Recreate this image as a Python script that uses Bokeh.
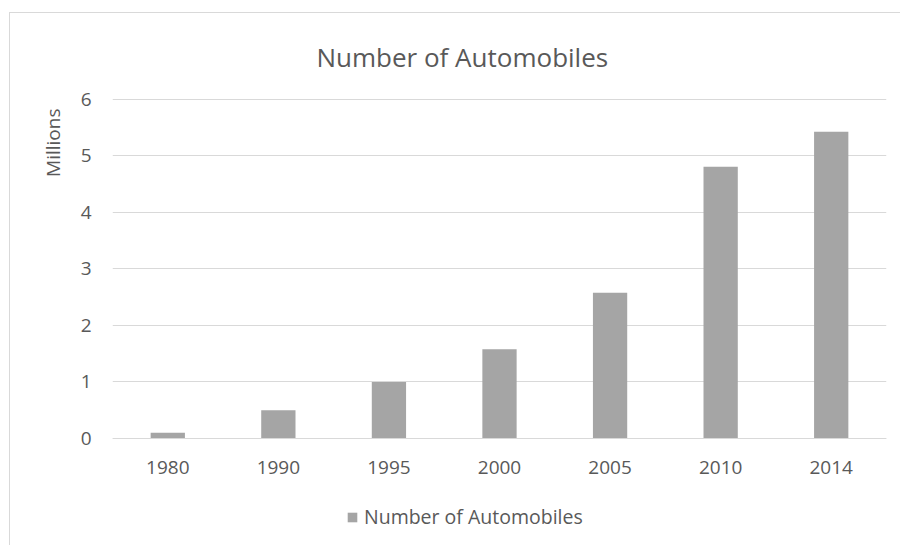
from bokeh.plotting import figure
from bokeh.models import Range1d, Legend, LegendItem, Title
from bokeh.embed import file_html
from bokeh.resources import INLINE

years = ["1980", "1990", "1995", "2000", "2005", "2010", "2014"]
automobiles = [0.1, 0.5, 1.0, 1.58, 2.58, 4.81, 5.43]
y_ticks = [0, 1, 2, 3, 4, 5, 6]
title_text = "Number of Automobiles"
series_name = "Number of Automobiles"
unit_text = "Millions"

FONT = "Open Sans"
TXT = "#595959"
GRID = "#D9D9D9"
BAR = "#A5A5A5"

p = figure(x_range=years, y_range=Range1d(-1.913, 6.017), width=891, height=533,
           output_backend="svg", toolbar_location=None, title=None,
           min_border_left=102, min_border_right=15, min_border_top=84,
           min_border_bottom=0,
           styles={"margin-left": "9px", "margin-top": "12px",
                   "border-left": "1px solid #D9D9D9",
                   "border-top": "1px solid #D9D9D9"})
p.outline_line_color = None
p.background_fill_color = "white"
p.border_fill_color = "white"

r = p.vbar(x=years, top=automobiles, bottom=0, width=0.31,
           fill_color=BAR, line_color=None)

p.xgrid.grid_line_color = None
p.ygrid.grid_line_color = GRID
p.ygrid.grid_line_width = 1
p.yaxis.ticker = y_ticks

p.xaxis.fixed_location = 0
p.xaxis.axis_line_color = GRID
p.xaxis.axis_line_width = 1
p.yaxis.axis_line_color = None
for ax in (p.xaxis, p.yaxis):
    ax.major_tick_line_color = None
    ax.minor_tick_line_color = None
    ax.major_tick_in = 0
    ax.major_tick_out = 0
    ax.major_label_text_font = FONT
    ax.major_label_text_font_size = "19px"
    ax.major_label_text_color = TXT
p.yaxis.major_label_standoff = 21
p.xaxis.major_label_standoff = 23

title = Title(text=title_text, text_font=FONT, text_font_size="26px",
              text_color=TXT, text_font_style="normal", align="left",
              offset=204, vertical_align="bottom", standoff=47)
p.add_layout(title, "above")

unit = Title(text=unit_text, text_font=FONT, text_font_size="19px",
             text_color=TXT, text_font_style="normal", align="right",
             offset=10, vertical_align="bottom", standoff=24)
p.add_layout(unit, "left")

legend = Legend(items=[LegendItem(label=series_name, renderers=[r])],
                location=(234, 16), orientation="horizontal",
                padding=0, margin=0, glyph_width=12, glyph_height=12,
                label_standoff=6, label_text_font=FONT,
                label_text_font_size="19.5px", label_text_color=TXT,
                border_line_color=None, background_fill_alpha=0)
p.add_layout(legend)

open("out.html", "w").write(file_html(p, INLINE))
